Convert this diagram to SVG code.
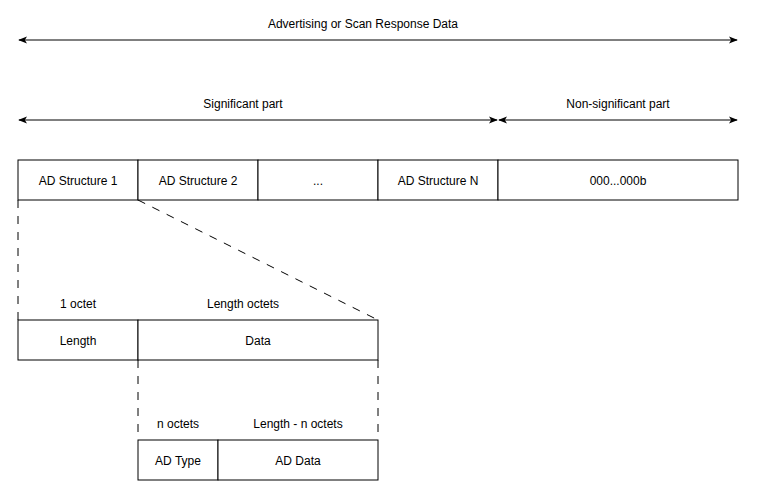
<svg xmlns="http://www.w3.org/2000/svg" width="758" height="491" viewBox="0 0 758 491">
<style>
text{font-family:"Liberation Sans",Arial,sans-serif;font-size:12px;fill:#000;text-anchor:middle;dominant-baseline:central}
.box{fill:#fff;stroke:#000;stroke-width:1}
.ln{stroke:#000;stroke-width:1;fill:none}
.dash{stroke:#000;stroke-width:1;fill:none;stroke-dasharray:8 8}
</style>
<defs>
<marker id="ah" viewBox="0 0 10 10" refX="9" refY="5" markerWidth="9" markerHeight="9" markerUnits="userSpaceOnUse" orient="auto-start-reverse">
<path d="M0,1 L10,5 L0,9 L2.5,5 Z" fill="#000"/>
</marker>
</defs>
<rect width="758" height="491" fill="#fff"/>
<g id="connectors">
<line class="ln" x1="19" y1="40" x2="737" y2="40" marker-start="url(#ah)" marker-end="url(#ah)"/>
<line class="ln" x1="19" y1="120" x2="497" y2="120" marker-start="url(#ah)" marker-end="url(#ah)"/>
<line class="ln" x1="499" y1="120" x2="737" y2="120" marker-start="url(#ah)" marker-end="url(#ah)"/>
<line class="dash" x1="18" y1="200" x2="18" y2="320"/>
<line class="dash" x1="138" y1="200" x2="378" y2="320"/>
<line class="dash" x1="138" y1="360" x2="138" y2="440"/>
<line class="dash" x1="378" y1="360" x2="378" y2="440"/>
</g>
<g id="labels">
<text x="363" y="23.5">Advertising or Scan Response Data</text>
<text x="243" y="103.5">Significant part</text>
<text x="618" y="103.5">Non-significant part</text>
<text x="78" y="303.5">1 octet</text>
<text x="243" y="303.5">Length octets</text>
<text x="178" y="423.5">n octets</text>
<text x="298" y="423.5">Length - n octets</text>
</g>
<g id="ad1"><rect class="box" x="18" y="160" width="120" height="40"/><text x="78" y="180.5">AD Structure 1</text></g>
<g id="ad2"><rect class="box" x="138" y="160" width="120" height="40"/><text x="198" y="180.5">AD Structure 2</text></g>
<g id="adDots"><rect class="box" x="258" y="160" width="120" height="40"/><text x="318" y="180.5">...</text></g>
<g id="adN"><rect class="box" x="378" y="160" width="120" height="40"/><text x="438" y="180.5">AD Structure N</text></g>
<g id="zeros"><rect class="box" x="498" y="160" width="240" height="40"/><text x="618" y="180.5">000...000b</text></g>
<g id="length"><rect class="box" x="18" y="320" width="120" height="40"/><text x="78" y="340.5">Length</text></g>
<g id="data"><rect class="box" x="138" y="320" width="240" height="40"/><text x="258" y="340.5">Data</text></g>
<g id="adtype"><rect class="box" x="138" y="440" width="80" height="40"/><text x="178" y="460.5">AD Type</text></g>
<g id="addata"><rect class="box" x="218" y="440" width="160" height="40"/><text x="298" y="460.5">AD Data</text></g>
</svg>
